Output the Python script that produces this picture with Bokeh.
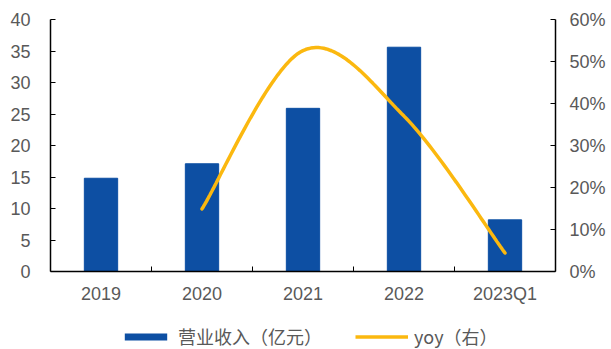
import numpy as np
from bokeh.plotting import figure
from bokeh.layouts import column
from bokeh.models import (Range1d, LinearAxis, FixedTicker, PrintfTickFormatter,
                          Legend, LegendItem)
from bokeh.embed import file_html
from bokeh.resources import INLINE

categories = ["2019", "2020", "2021", "2022", "2023Q1"]
revenue = [14.8, 17.1, 25.9, 35.6, 8.2]          # 营业收入（亿元）
yoy_cats = ["2020", "2021", "2022", "2023Q1"]
yoy = [14.9, 52.6, 37.0, 4.4]                    # yoy (%)
left_ticks = [0, 5, 10, 15, 20, 25, 30, 35, 40]
right_ticks = [0, 10, 20, 30, 40, 50, 60]
series_names = ["营业收入（亿元）", "yoy（右）"]

BAR = "#0D4FA3"
LINE = "#FBB80F"
TXT = "#595959"
FONT = "Liberation Sans"
FS = "18px"

xc = [categories.index(c) + 0.5 for c in categories]
yx = [categories.index(c) + 0.5 for c in yoy_cats]

# Excel-like smoothed line (cubic Bezier through the data points)
def smooth(xs, ys, n=40):
    P = list(zip(xs, ys))
    out_x, out_y = [], []
    for i in range(len(P) - 1):
        p0 = P[i - 1] if i > 0 else P[i]
        p1, p2 = P[i], P[i + 1]
        p3 = P[i + 2] if i + 2 < len(P) else P[i + 1]
        c1 = (p1[0] + (p2[0] - p0[0]) / 6, p1[1] + (p2[1] - p0[1]) / 6)
        c2 = (p2[0] - (p3[0] - p1[0]) / 6, p2[1] - (p3[1] - p1[1]) / 6)
        t = np.linspace(0, 1, n)
        bx = (1-t)**3*p1[0] + 3*(1-t)**2*t*c1[0] + 3*(1-t)*t**2*c2[0] + t**3*p2[0]
        by = (1-t)**3*p1[1] + 3*(1-t)**2*t*c1[1] + 3*(1-t)*t**2*c2[1] + t**3*p2[1]
        out_x.extend(bx.tolist()); out_y.extend(by.tolist())
    return out_x, out_y

sx, sy = smooth(yx, yoy)

p = figure(width=611, height=310, output_backend="svg", toolbar_location=None,
           x_range=Range1d(0, len(categories)), y_range=Range1d(0, 40),
           min_border_left=50, min_border_right=56, min_border_top=19,
           min_border_bottom=39)
p.extra_y_ranges = {"pct": Range1d(0, 60)}
p.outline_line_color = None
p.xgrid.visible = False
p.ygrid.visible = False

bars = p.vbar(x=xc, top=revenue, width=0.33, fill_color=BAR, line_color=BAR)
line = p.line(sx, sy, line_color=LINE, line_width=3.5, y_range_name="pct",
              line_cap="round")

# x axis: labels at centers, tick marks at boundaries
xa = p.xaxis[0]
xa.ticker = FixedTicker(ticks=xc, minor_ticks=list(range(1, len(categories))))
xa.major_label_overrides = {v: c for v, c in zip(xc, categories)}
xa.major_tick_line_color = None
xa.minor_tick_in = 5
xa.minor_tick_out = 0
xa.minor_tick_line_color = "black"
xa.axis_line_color = "black"
xa.axis_line_width = 1.5
xa.major_label_text_font = FONT
xa.major_label_text_font_size = FS
xa.major_label_text_color = TXT
xa.major_label_standoff = 6

ya = p.yaxis[0]
ya.ticker = FixedTicker(ticks=left_ticks)
ya.major_tick_in = 5
ya.major_tick_out = 0
ya.minor_tick_line_color = None
ya.axis_line_color = "black"
ya.axis_line_width = 1.5
ya.major_label_text_font = FONT
ya.major_label_text_font_size = FS
ya.major_label_text_color = TXT
ya.major_label_standoff = 20

ra = LinearAxis(y_range_name="pct", ticker=FixedTicker(ticks=right_ticks),
                formatter=PrintfTickFormatter(format="%d%%"))
ra.major_tick_in = 5
ra.major_tick_out = 0
ra.minor_tick_line_color = None
ra.axis_line_color = "black"
ra.axis_line_width = 1.5
ra.major_label_text_font = FONT
ra.major_label_text_font_size = FS
ra.major_label_text_color = TXT
ra.major_label_standoff = 14
p.add_layout(ra, "right")

# legend strip below the chart (its own renderers draw nothing visible)
lf = figure(width=611, height=39, output_backend="svg", toolbar_location=None,
            x_axis_type=None, y_axis_type=None, min_border=0,
            x_range=Range1d(0, 1), y_range=Range1d(0, 1))
lf.outline_line_color = None
lf.xgrid.visible = False
lf.ygrid.visible = False
lb = lf.vbar(x=[0.5], top=[0], bottom=[0], width=0.3, fill_color=BAR, line_color=None)
ll = lf.line(x=[0.5], y=[0.5], line_color=LINE, line_width=3.5)
legend = Legend(items=[LegendItem(label=series_names[0], renderers=[lb]),
                       LegendItem(label=series_names[1], renderers=[ll])],
                orientation="horizontal", location=(69, 0),
                glyph_width=53, glyph_height=9, spacing=33,
                label_text_font="Noto Sans CJK SC", label_text_font_size=FS,
                label_text_color=TXT, border_line_color=None,
                background_fill_alpha=0, margin=0, padding=0, label_standoff=6)
lf.add_layout(legend, "center")

layout = column(p, lf, spacing=0)
open("out.html", "w").write(file_html(layout, INLINE))
